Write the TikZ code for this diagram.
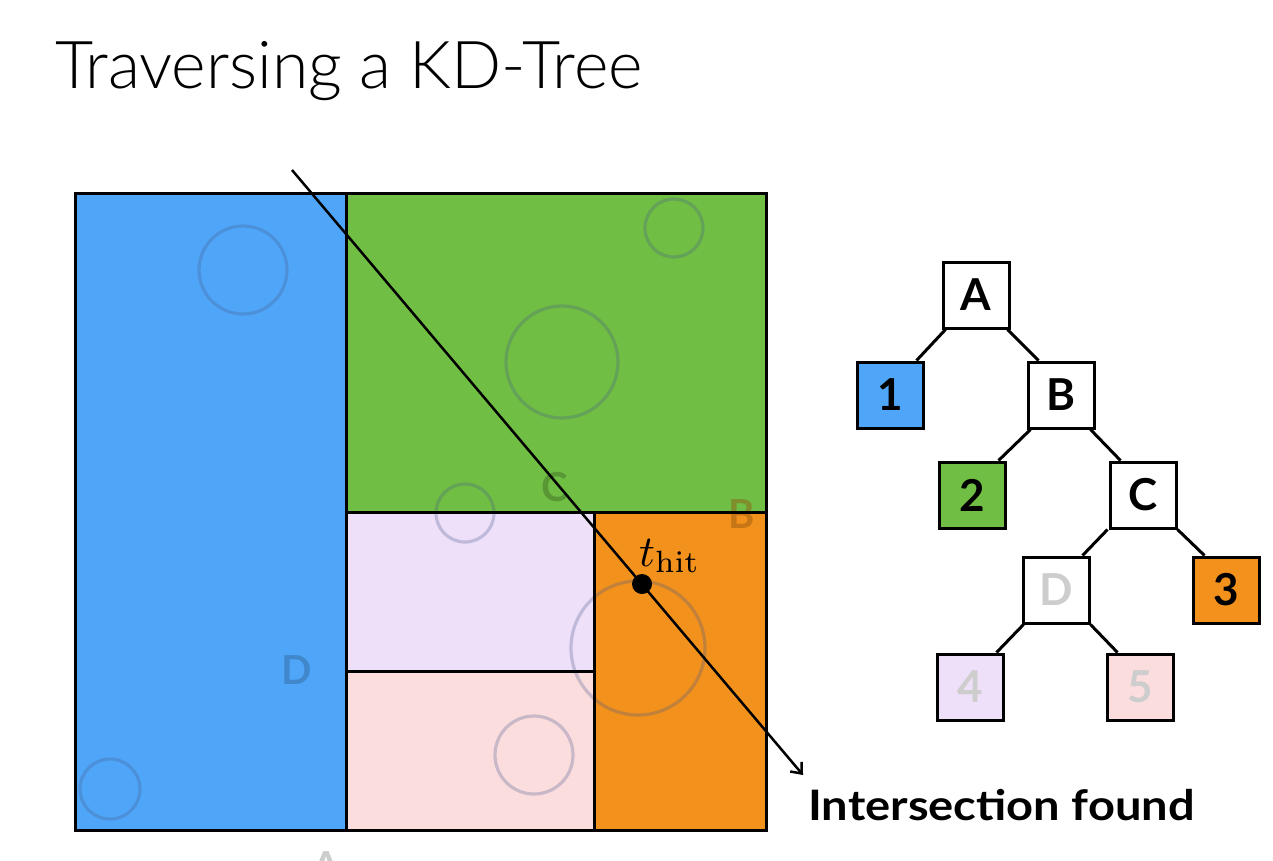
\documentclass[tikz,border=0pt]{standalone}
\usepackage[no-math]{fontspec}
\setmainfont{Lato}
\newfontfamily\titlefont{Lato Light}
\usetikzlibrary{arrows.meta,calc}
\definecolor{cblue}{RGB}{79,166,249}
\definecolor{cgreen}{RGB}{112,190,67}
\definecolor{corange}{RGB}{242,145,27}
\definecolor{clav}{RGB}{238,224,248}
\definecolor{cpink}{RGB}{252,221,222}
\definecolor{ccirc}{RGB}{70,90,140}
\definecolor{lightlbl}{RGB}{205,205,205}
\tikzset{
  region/.style={draw=black,line width=3pt},
  blob/.style={draw=ccirc,draw opacity=0.28,line width=3.2pt},
  rlabel/.style={font=\fontsize{40}{40}\selectfont\bfseries,opacity=0.45},
  tnode/.style={draw=black,line width=3pt,minimum size=66pt,inner sep=0pt,font=\fontsize{44}{44}\selectfont\bfseries},
  tedge/.style={line width=3pt},
}
\begin{document}
\begin{tikzpicture}[x=1pt,y=-1pt]
\useasboundingbox (0,0) rectangle (1273,860);
\clip (0,0) rectangle (1273,860);
% title
\node[anchor=base west,inner sep=0pt,font=\titlefont\fontsize{66}{66}\selectfont] (title) at (55,88) {Traversing a KD-Tree};
% regions
\fill[cblue] (75,193) rectangle (346,830);
\fill[cgreen] (346,193) rectangle (766,512);
\fill[clav] (346,512) rectangle (594,671);
\fill[cpink] (346,671) rectangle (594,830);
\fill[corange] (594,512) rectangle (766,830);
% circles
\draw[blob] (243,270) circle (44);
\draw[blob] (110,789) circle (30);
\draw[blob] (674,228) circle (29);
\draw[blob] (562,362) circle (56);
\draw[blob] (465,513) circle (29);
\draw[blob] (534,755) circle (39);
\draw[blob] (638,648) circle (67);
% region labels
\node[rlabel,text=cgreen!55!black] (lC) at (555,487) {C};
\node[rlabel,text=corange!60!black] (lB) at (742,514) {B};
\node[rlabel,text=cblue!60!black] (lD) at (297,670) {D};
\node[rlabel,text=lightlbl,opacity=1] (lA) at (326,866) {A};
% split lines
\draw[region] (75,193) rectangle (766,830);
\draw[region] (346,193) -- (346,830);
\draw[region] (346,512) -- (766,512);
\draw[region] (594,512) -- (594,830);
\draw[region] (346,671) -- (594,671);
% ray
\coordinate (rs) at (292,170);
\coordinate (re) at (803,775);
\draw[line width=2.5pt,-{Straight Barb[length=9pt,width=15pt,line width=2.5pt]}] (rs) -- (re);
\fill[black] (642,584) circle (10) coordinate (hit);
\node[anchor=base west,inner sep=0pt,font=\normalsize] (thit) at (639,566) {\scalebox{4.4}{$t_{\mathrm{hit}}$}};
\node[anchor=base west,inner sep=0pt,xscale=1.12,font=\fontsize{42}{42}\selectfont\bfseries] (found) at (808,820) {Intersection found};
% tree
\node[tnode,fill=white] (A) at (976,295) {A};
\node[tnode,fill=cblue] (n1) at (890,395) {1};
\node[tnode,fill=white] (B) at (1061,395) {B};
\node[tnode,fill=cgreen] (n2) at (972,495) {2};
\node[tnode,fill=white] (C) at (1143,495) {C};
\node[tnode,fill=white,text=lightlbl] (D) at (1056,590) {D};
\node[tnode,fill=corange] (n3) at (1226,590) {3};
\node[tnode,fill=clav,text=lightlbl] (n4) at (970,687) {4};
\node[tnode,fill=cpink,text=lightlbl] (n5) at (1140,687) {5};
\draw[tedge] ($(A.south west)+(4,0)$) -- ($(n1.north east)+(-8,0)$);
\draw[tedge] ($(A.south east)+(-3,0)$) -- ($(B.north west)+(12,0)$);
\draw[tedge] ($(B.south west)+(4,0)$) -- ($(n2.north east)+(-8,0)$);
\draw[tedge] ($(B.south east)+(-5,0)$) -- ($(C.north west)+(12,0)$);
\draw[tedge] ($(C.south west)+(-1,0)$) -- ($(D.north east)+(-8,0)$);
\draw[tedge] ($(C.south east)+(0,0)$) -- ($(n3.north west)+(13,0)$);
\draw[tedge] ($(D.south west)+(2,0)$) -- ($(n4.north east)+(-8,0)$);
\draw[tedge] ($(D.south east)+(0,0)$) -- ($(n5.north west)+(12,0)$);
\end{tikzpicture}
\end{document}
